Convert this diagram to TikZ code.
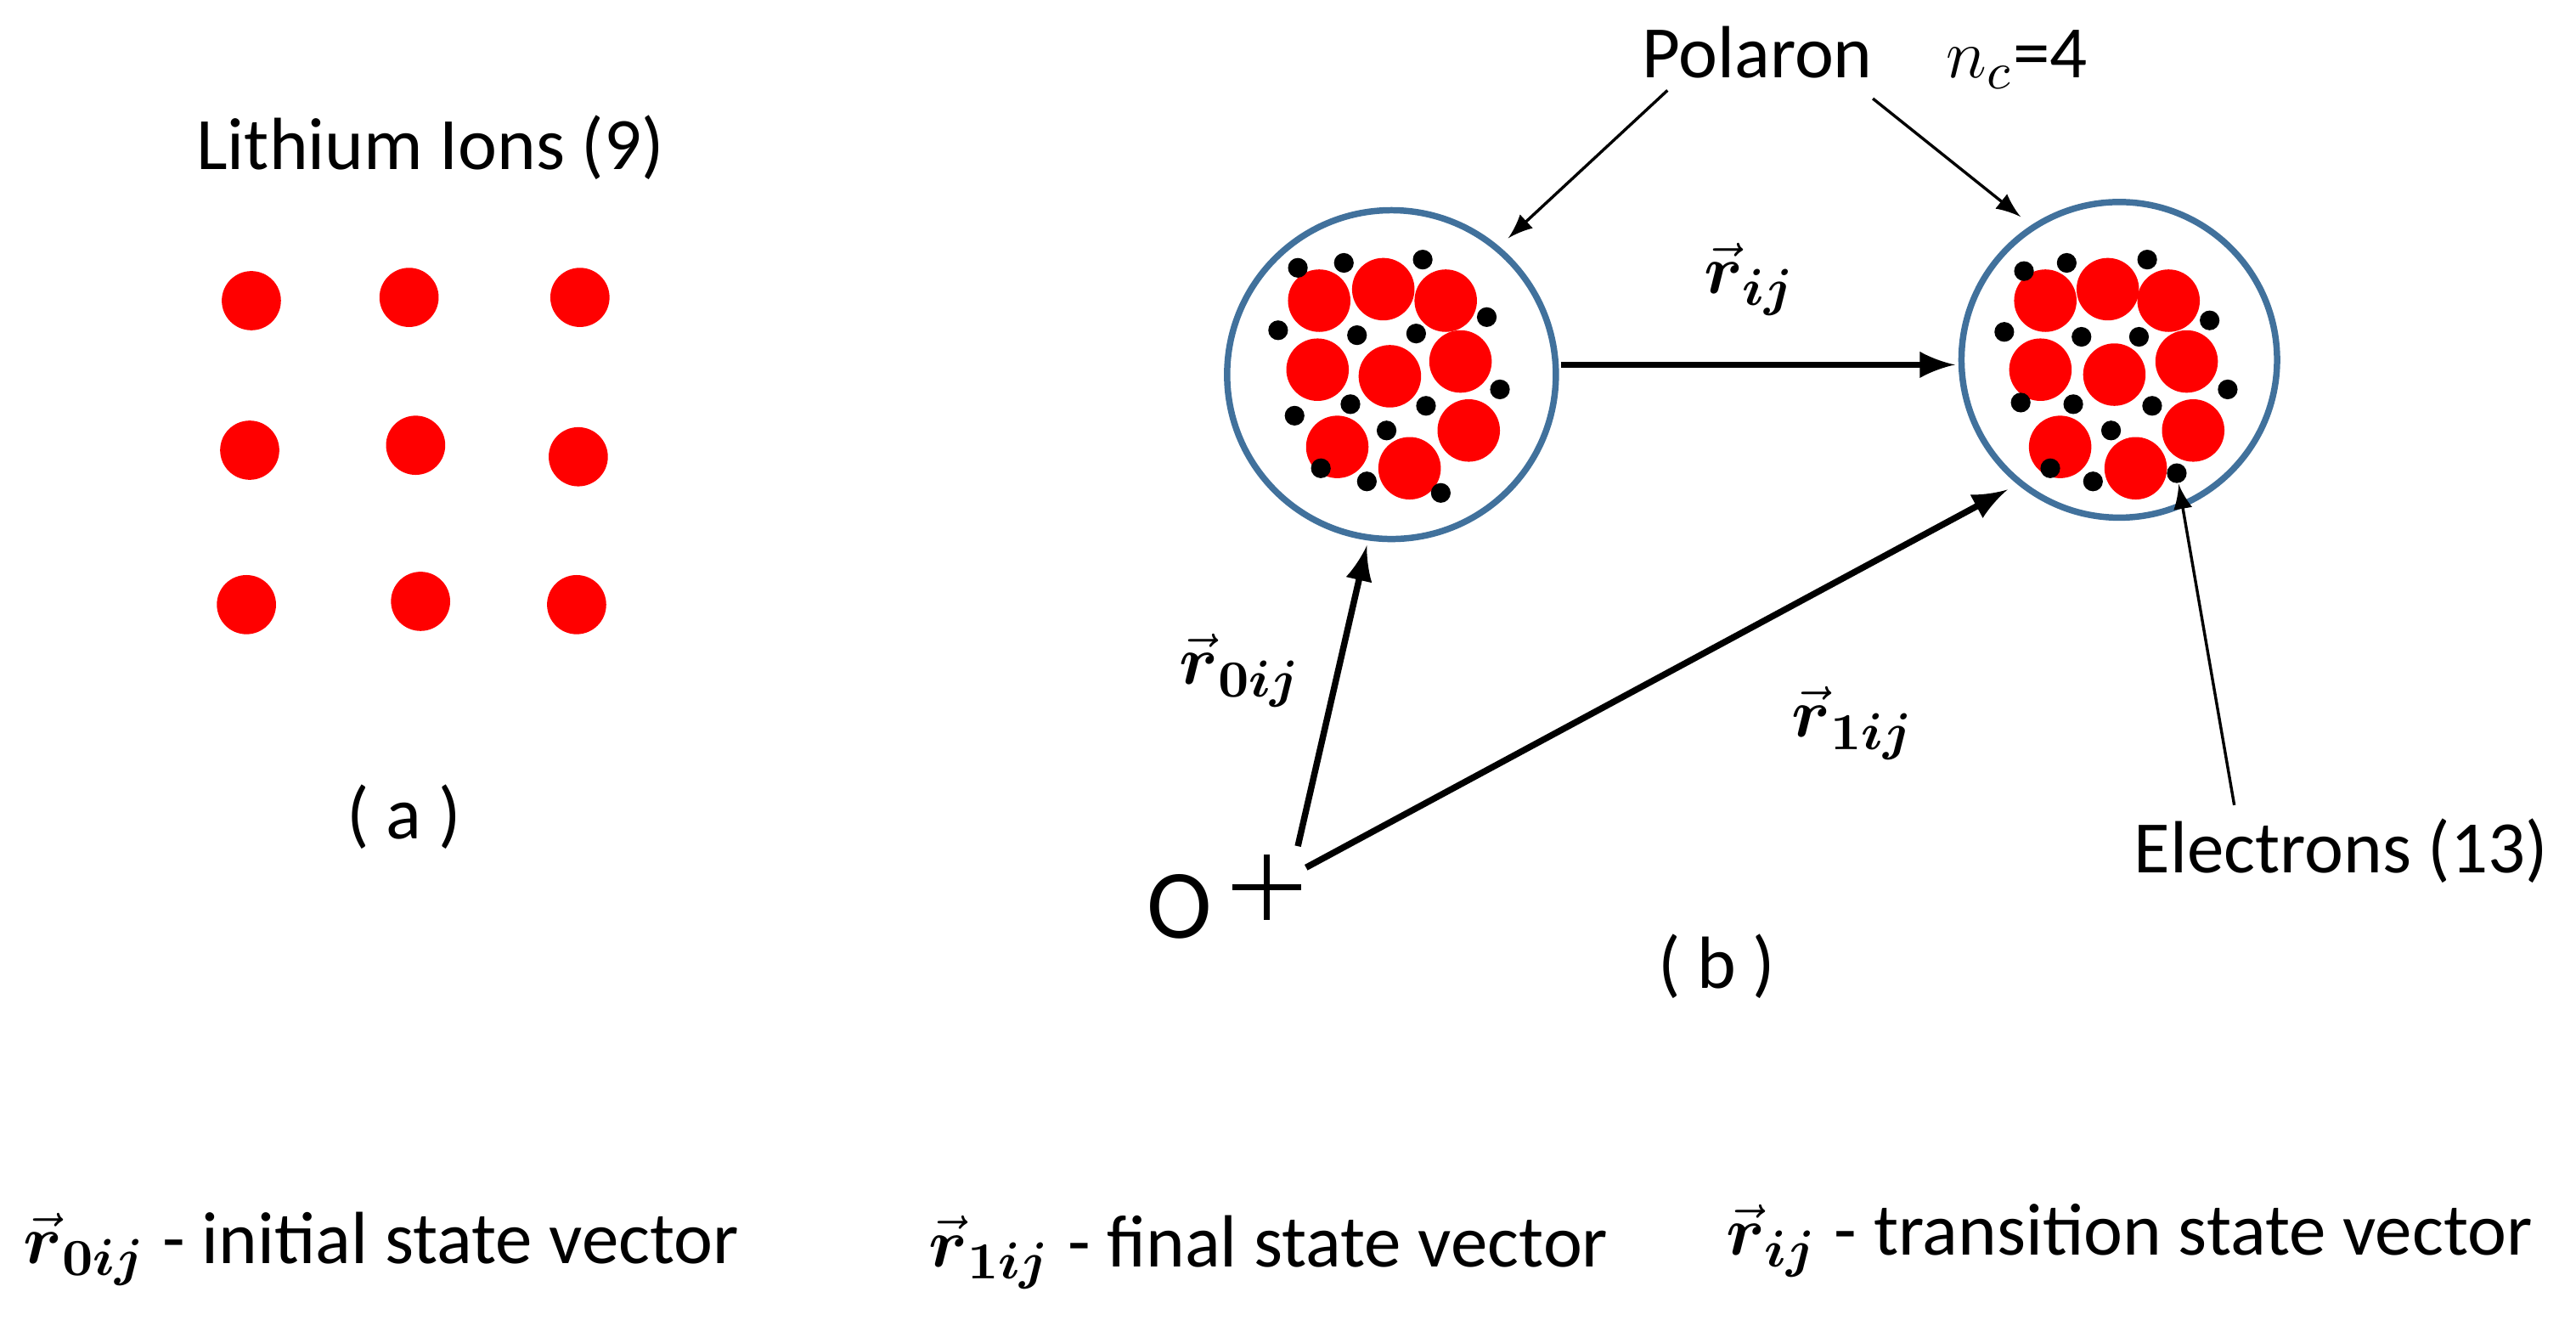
\documentclass[tikz,border=0pt]{standalone}
\usepackage{amsmath}
\usepackage{fontspec}
\setmainfont{Carlito}
\begin{document}
\begin{tikzpicture}[x=0.01cm,y=-0.01cm,
  ion/.style={circle,fill=red,inner sep=0,minimum size=0.36cm},
  sion/.style={circle,fill=red,inner sep=0,minimum size=0.38cm},
  el/.style={circle,fill=black,inner sep=0,minimum size=0.12cm},
  pol/.style={circle,draw={rgb,255:red,65;green,113;blue,156},line width=1.1pt,inner sep=0},
  vec/.style={-latex,line width=1.1pt},
  thin/.style={-latex,line width=0.5pt},
  lab/.style={font=\fontsize{12.8}{14}\selectfont,inner sep=1pt}]
\useasboundingbox (0,0) rectangle (1568,803);
\node[lab] (li) at (262,90) {Lithium Ions (9)};
\foreach \p [count=\i] in {(153,183),(249,181),(353,181),(152,274),(253,271),(352,278),(150,368),(256,366),(351,368)}
  \node[ion] (a\i) at \p {};
\node[lab] (la) at (246,497) {( a )};
% polaron circles
\node[pol,minimum size=2cm] (p1) at (847,228) {};
\node[pol,minimum size=1.92cm] (p2) at (1290,219) {};
\foreach \p in {(803,183),(842,176),(880,183),(802,225),(846,229),(889,220),(814,272),(858,285),(894,262)}
  \node[sion] at \p {};
\foreach \p in {(790,163),(818,160),(866,158),(905,193),(778,201),(826,204),(862,203),(913,237),(788,253),(822,246),(868,247),(844,262),(804,285),(832,293),(877,300)}
  \node[el] at \p {};
\foreach \p in {(1245,183),(1283,176),(1320,183),(1242,225),(1287,228),(1331,220),(1254,272),(1300,285),(1335,262)}
  \node[sion] at \p {};
\foreach \p in {(1232,165),(1258,160),(1307,158),(1345,195),(1220,202),(1267,205),(1302,205),(1356,237),(1230,245),(1262,246),(1310,247),(1285,262),(1248,285),(1274,293)}
  \node[el] at \p {};
\node[el] (e1) at (1325,288) {};
% origin
\node[font=\fontsize{17}{18}\selectfont,inner sep=0] (O) at (718,552) {O};
\draw[line width=1.1pt] (750,540) -- (792,540) (771,520) -- (771,560);
\coordinate (t1) at (950,222);
\coordinate (t2) at (1190,222);
\draw[vec] (t1) -- (t2);
\coordinate (s0) at (790,515);
\coordinate (e0) at (832,332);
\draw[vec] (s0) -- (e0);
\coordinate (s1) at (795,528);
\coordinate (e1b) at (1222,298);
\draw[vec] (s1) -- (e1b);
\node[lab] (rij) at (1065,170) {$\vec{\boldsymbol r}_{\boldsymbol{ij}}$};
\node[lab] (r0) at (755,408) {$\vec{\boldsymbol r}_{\boldsymbol{0ij}}$};
\node[lab] (r1) at (1128,440) {$\vec{\boldsymbol r}_{\boldsymbol{1ij}}$};
\node[lab] (pl) at (1135,35) {Polaron\quad $n_c$=4};
\coordinate (q1) at (1015,55);
\coordinate (q2) at (1140,60);
\draw[thin] (q1) -- (918,145);
\draw[thin] (q2) -- (1230,132);
\node[lab] (el) at (1425,518) {Electrons (13)};
\coordinate (q3) at (1360,490);
\draw[thin] (q3) -- (e1);
\node[lab] (lb) at (1045,588) {( b )};
\node[lab] (k1) at (232,760) {$\vec{\boldsymbol r}_{\boldsymbol{0ij}}$ - initial state vector};
\node[lab] (k2) at (772,762) {$\vec{\boldsymbol r}_{\boldsymbol{1ij}}$ - final state vector};
\node[lab] (k3) at (1296,755) {$\vec{\boldsymbol r}_{\boldsymbol{ij}}$ - transition state vector};
\end{tikzpicture}
\end{document}
